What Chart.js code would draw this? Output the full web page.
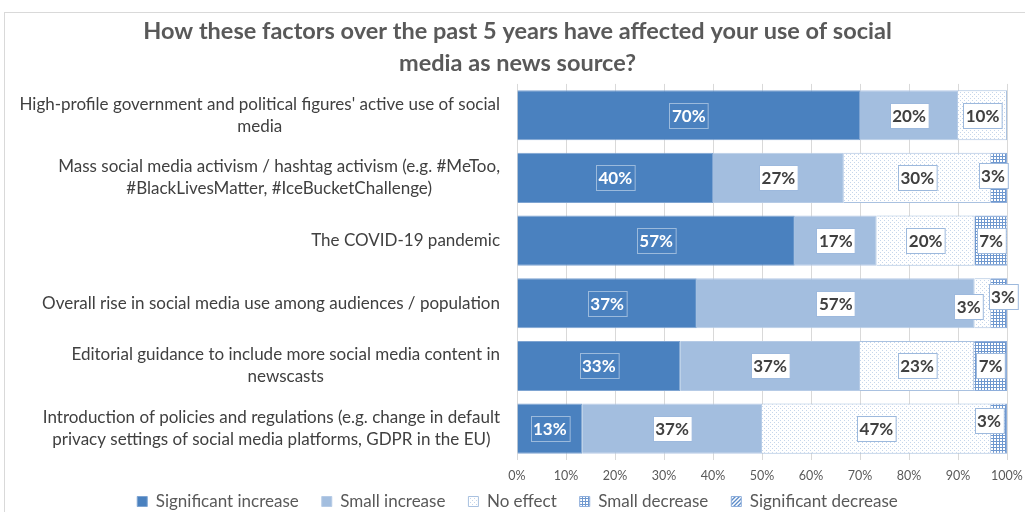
<!DOCTYPE html>
<html>
<head>
<meta charset="utf-8">
<title>Social media as news source</title>
<script src="https://cdn.jsdelivr.net/npm/chart.js@4.4.1/dist/chart.umd.min.js"></script>
<style>
    html, body { margin: 0; padding: 0; background: #fff; }
    #wrap { width: 1025px; height: 512px; }
</style>
</head>
<body>
<div id="wrap"><canvas id="factorsChart" width="1025" height="512"></canvas></div>
<script>
// Survey answers, share of respondents per factor (n = 30)
const categories = [
    ["High-profile government and political figures' active use of social", "media"],
    ["Mass social media activism / hashtag activism (e.g. #MeToo,", "#BlackLivesMatter, #IceBucketChallenge)"],
    ["The COVID-19 pandemic"],
    ["Overall rise in social media use among audiences / population"],
    ["Editorial guidance to include more social media content in", "newscasts"],
    ["Introduction of policies and regulations (e.g. change in default", "privacy settings of social media platforms, GDPR in the EU)"]
];
const seriesNames = ["Significant increase", "Small increase", "No effect", "Small decrease", "Significant decrease"];
const significantIncrease = [70, 40, 56.7, 36.7, 33.3, 13.3];
const smallIncrease = [20, 26.7, 16.7, 56.7, 36.7, 36.7];
const noEffect = [10, 30, 20, 3.3, 23.3, 46.7];
const smallDecrease = [0, 3.3, 6.7, 3.3, 6.7, 3.3];
const significantDecrease = [0, 0, 0, 0, 0, 0];
const xTicks = [0, 10, 20, 30, 40, 50, 60, 70, 80, 90, 100];

document.addEventListener("DOMContentLoaded", function () {
    const ctx = document.getElementById('factorsChart').getContext('2d');
    const FONT = 'Lato';

    // small repeating tiles for the hatched series
    function makePattern(size, draw) {
        const tile = document.createElement('canvas');
        tile.width = size;
        tile.height = size;
        const t = tile.getContext('2d');
        t.fillStyle = '#ffffff';
        t.fillRect(0, 0, size, size);
        draw(t);
        return ctx.createPattern(tile, 'repeat');
    }

    const dotted = makePattern(4, function (t) {
        t.fillStyle = '#c6d6eb';
        t.fillRect(0, 0, 1, 1);
        t.fillRect(2, 2, 1, 1);
    });
    const gridded = makePattern(3, function (t) {
        t.fillStyle = '#6f98cf';
        t.fillRect(0, 0, 3, 3);
        t.fillStyle = '#ffffff';
        t.fillRect(1, 1, 2, 2);
    });
    const striped = makePattern(4, function (t) {
        t.strokeStyle = '#5b8bc9';
        t.lineWidth = 1.3;
        t.beginPath();
        t.moveTo(-1, 5); t.lineTo(5, -1);
        t.moveTo(-1, 1); t.lineTo(1, -1);
        t.moveTo(3, 5); t.lineTo(5, 3);
        t.stroke();
    });

    // hand nudges for labels that would overlap on thin segments: "dataset,row" -> [dx, dy]
    const labelNudge = {
        '3,1': [-6, -2],
        '2,3': [-14, 3],
        '3,3': [4, -7],
        '3,5': [-10, -8]
    };

    // light frame around the whole chart
    const framePlugin = {
        id: 'frame',
        beforeDraw(chart) {
            const c = chart.ctx;
            c.save();
            c.fillStyle = '#ffffff';
            c.fillRect(0, 0, chart.width, chart.height);
            c.strokeStyle = '#d9d9d9';
            c.lineWidth = 1;
            c.strokeRect(4.5, 12.5, chart.width + 10, chart.height + 10);
            c.restore();
        }
    };

    // legend keeps wide item spacing but sits closer to the axis labels
    const legendShift = {
        id: 'legendShift',
        afterLayout(chart) {
            chart.legend.top -= 21;
        }
    };

    // category labels: block right aligned against the axis, lines centred inside the block
    const categoryLabels = {
        id: 'categoryLabels',
        afterDraw(chart) {
            const c = chart.ctx;
            const y = chart.scales.y;
            c.save();
            c.font = '17px ' + FONT;
            c.fillStyle = '#404040';
            c.textAlign = 'center';
            c.textBaseline = 'middle';
            categories.forEach(function (lines, i) {
                const yc = y.getPixelForValue(i);
                const w = Math.max.apply(null, lines.map(function (l) { return c.measureText(l).width; }));
                const cx = y.right - 17 - w / 2;
                lines.forEach(function (line, j) {
                    c.fillText(line, cx, yc + (j - (lines.length - 1) / 2) * 22);
                });
            });
            c.restore();
        }
    };

    // boxed percentage labels in the middle of each segment
    const valueLabels = {
        id: 'valueLabels',
        afterDatasetsDraw(chart) {
            const c = chart.ctx;
            c.save();
            c.font = 'bold 17px ' + FONT;
            c.textAlign = 'center';
            c.textBaseline = 'middle';
            chart.data.datasets.forEach(function (ds, di) {
                chart.getDatasetMeta(di).data.forEach(function (bar, i) {
                    const v = ds.data[i];
                    if (!v) return;
                    const text = Math.round(v) + '%';
                    const nudge = labelNudge[di + ',' + i] || [0, 0];
                    const cx = (bar.x + bar.base) / 2 + nudge[0];
                    const cy = bar.y + nudge[1];
                    const w = c.measureText(text).width + 5;
                    const h = 25;
                    const bx = Math.round(cx - w / 2) + 0.5;
                    const by = Math.round(cy - h / 2) + 0.5;
                    if (di === 0) {
                        c.strokeStyle = 'rgba(255,255,255,0.45)';
                    } else {
                        c.fillStyle = '#ffffff';
                        c.fillRect(bx, by, w, h);
                        c.strokeStyle = '#9db9dd';
                    }
                    c.lineWidth = 1;
                    c.strokeRect(bx, by, w, h);
                    c.fillStyle = di === 0 ? '#ffffff' : '#404040';
                    c.fillText(text, cx, cy + 1);
                });
            });
            c.restore();
        }
    };

    const factorsChart = new Chart(ctx, {
        type: 'bar',
        data: {
            labels: categories,
            datasets: [
                { label: seriesNames[0], data: significantIncrease, backgroundColor: '#4a81bf', borderColor: '#7ea4d2', borderWidth: 1 },
                { label: seriesNames[1], data: smallIncrease, backgroundColor: '#a3bedf', borderColor: '#b6cbe6', borderWidth: 1 },
                { label: seriesNames[2], data: noEffect, backgroundColor: dotted, borderColor: '#a9c1e0', borderWidth: 1 },
                { label: seriesNames[3], data: smallDecrease, backgroundColor: gridded, borderColor: '#8eaedb', borderWidth: 1 },
                { label: seriesNames[4], data: significantDecrease, backgroundColor: striped, borderColor: '#8eaedb', borderWidth: 1 }
            ]
        },
        options: {
            indexAxis: 'y',
            responsive: false,
            animation: false,
            devicePixelRatio: 1,
            layout: { padding: { left: 28, right: 18, top: 0, bottom: 0 } },
            datasets: {
                bar: { barPercentage: 0.8, categoryPercentage: 1 }
            },
            scales: {
                x: {
                    stacked: true,
                    min: 0,
                    max: 100,
                    afterBuildTicks(scale) {
                        scale.ticks = xTicks.map(function (v) { return { value: v }; });
                    },
                    afterFit(scale) {
                        scale.paddingLeft = 0;
                        scale.paddingRight = 0;
                    },
                    ticks: {
                        callback: function (v) { return v + '%'; },
                        color: '#595959',
                        font: { family: FONT, size: 12.5 },
                        padding: 8,
                        maxRotation: 0
                    },
                    grid: { color: '#d9d9d9', drawTicks: false },
                    border: { display: false }
                },
                y: {
                    stacked: true,
                    ticks: { display: false },
                    grid: { display: false },
                    border: { display: false },
                    afterFit(scale) { scale.width = 489; }
                }
            },
            plugins: {
                title: {
                    display: true,
                    text: ['How these factors over the past 5 years have affected your use of social', 'media as news source?'],
                    color: '#595959',
                    font: { family: FONT, size: 23.5, weight: 'bold', lineHeight: 1.36 },
                    padding: { top: 15, bottom: 5 }
                },
                legend: {
                    position: 'bottom',
                    maxHeight: 21,
                    labels: {
                        boxWidth: 10,
                        boxHeight: 10,
                        padding: 23,
                        color: '#595959',
                        font: { family: FONT, size: 17 }
                    }
                },
                tooltip: { enabled: false }
            }
        },
        plugins: [framePlugin, legendShift, categoryLabels, valueLabels]
    });
});
</script>
</body>
</html>
